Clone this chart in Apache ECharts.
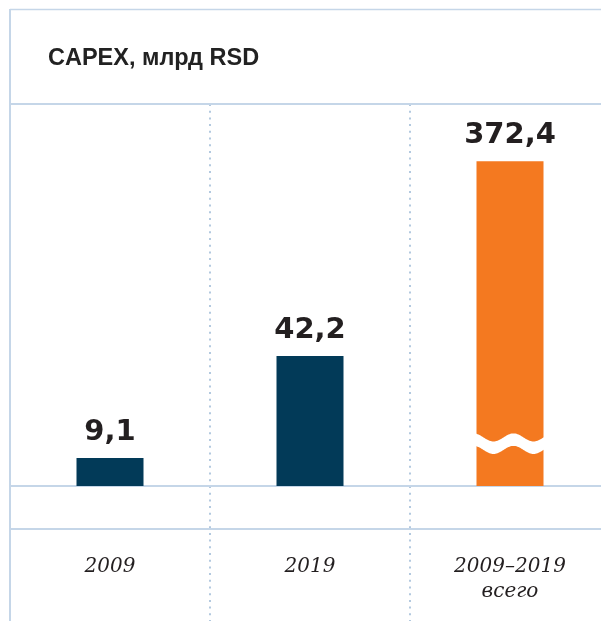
<!DOCTYPE html>
<html>
<head>
<meta charset="utf-8">
<style>
  html, body { margin: 0; padding: 0; background: #fff; overflow: hidden; }
  #chart { width: 612px; height: 621px; }
</style>
<script src="https://cdn.jsdelivr.net/npm/echarts@6/dist/echarts.min.js"></script>
</head>
<body>
<div id="chart"></div>
<script>
// ---- data ----
var categories = ['2009', '2019', '2009–2019\nвсего'];
var yearValues = [9.1, 42.2, '-'];          // млрд RSD, single years
var totalValues = ['-', '-', 372.4];        // млрд RSD, cumulative (broken bar)
var totalBreak = [11.5, 282.9];             // value range cut out of the cumulative bar
var titleText = 'CAPEX, млрд RSD';

// ---- style ----
var LINE = '#c5d6e8';
var DOT = '#b3c9df';
var NAVY = '#023a58';
var ORANGE = '#f47920';
var TEXT = '#231f20';
var BAR_RATIO = 0.335;

var chart = echarts.init(document.getElementById('chart'), null, { renderer: 'canvas' });

function fmt(p) { return String(p.value).replace('.', ','); }

var valueLabel = {
  show: true,
  position: 'top',
  distance: 11,
  formatter: fmt,
  fontFamily: 'DejaVu Sans',
  fontWeight: 'bold',
  fontSize: 29,
  color: TEXT
};

var option = {
  animation: false,
  backgroundColor: '#fff',
  title: {
    text: titleText,
    left: 43,
    top: 42,
    textStyle: { fontFamily: 'Liberation Sans', fontWeight: 'bold', fontSize: 23.5, color: '#222' }
  },
  grid: [
    { left: 10, width: 600, top: 104, height: 382 },
    { left: 10, width: 600, top: 486, height: 135 }
  ],
  xAxis: [
    {
      gridIndex: 0, type: 'category', data: categories,
      axisLine: { show: true, lineStyle: { color: LINE, width: 2 } },
      axisTick: { show: false },
      axisLabel: {
        margin: 68, interval: 0,
        fontFamily: 'DejaVu Serif', fontStyle: 'italic', fontSize: 20, lineHeight: 25, color: TEXT
      },
      splitLine: { show: true, interval: 0, lineStyle: { color: DOT, width: 2, type: [2, 4.7] } }
    },
    {
      gridIndex: 1, type: 'category', data: categories,
      axisLine: { show: false }, axisTick: { show: false }, axisLabel: { show: false },
      splitLine: { show: true, interval: 0, lineStyle: { color: DOT, width: 2, type: [2, 4.7] } }
    }
  ],
  yAxis: [
    { gridIndex: 0, type: 'value', min: 0, max: 124, show: false },
    {
      gridIndex: 0, type: 'value', min: 0, max: 391,
      axisLine: { show: false }, axisTick: { show: false }, axisLabel: { show: false },
      splitLine: { show: false },
      breaks: [{ start: totalBreak[0], end: totalBreak[1], gap: 4.5 }],
      breakArea: { show: false, expandOnClick: false }
    },
    { gridIndex: 1, type: 'value', min: 0, max: 1, show: false }
  ],
  series: [
    {
      type: 'bar', xAxisIndex: 0, yAxisIndex: 0,
      data: yearValues, barWidth: (BAR_RATIO * 100) + '%', barGap: '-100%',
      itemStyle: { color: NAVY },
      label: valueLabel
    },
    {
      type: 'bar', xAxisIndex: 0, yAxisIndex: 1,
      data: totalValues, barWidth: (BAR_RATIO * 100) + '%', barGap: '-100%',
      itemStyle: { color: ORANGE },
      label: valueLabel
    },
    {
      type: 'custom', xAxisIndex: 0, yAxisIndex: 1, z: 5, silent: true,
      data: [[2, totalBreak[0], totalBreak[1]]],
      encode: { x: 0, y: [1, 2] },
      renderItem: function (params, api) {
        var cat = api.value(0);
        var lo = api.coord([cat, api.value(1)]);
        var hi = api.coord([cat, api.value(2)]);
        var bw = api.size([1, 0])[0] * BAR_RATIO;
        var x0 = lo[0] - bw / 2 - 1, x1 = lo[0] + bw / 2 + 1;
        var yc = (lo[1] + hi[1]) / 2;
        var T = 12.5, A = 4, P = 40;
        var top = [], bot = [];
        for (var x = x0; x <= x1 + 0.01; x += 1) {
          var w = -A * Math.cos(2 * Math.PI * (x - x0 + 2) / P);
          top.push([x, yc - T / 2 + w]);
          bot.unshift([x, yc + T / 2 + w]);
        }
        return {
          type: 'polygon',
          shape: { points: top.concat(bot) },
          style: { fill: '#fff' }
        };
      }
    }
  ],
  graphic: [
    { type: 'line', z: 100, shape: { x1: 10, y1: 9, x2: 10, y2: 621 }, style: { stroke: LINE, lineWidth: 2 } },
    { type: 'line', z: 100, shape: { x1: 10, y1: 9.5, x2: 612, y2: 9.5 }, style: { stroke: LINE, lineWidth: 1.5 } },
    { type: 'line', z: 100, shape: { x1: 10, y1: 104, x2: 612, y2: 104 }, style: { stroke: LINE, lineWidth: 2 } },
    { type: 'line', z: 100, shape: { x1: 10, y1: 529, x2: 612, y2: 529 }, style: { stroke: LINE, lineWidth: 2 } }
  ]
};

chart.setOption(option);
</script>
</body>
</html>
